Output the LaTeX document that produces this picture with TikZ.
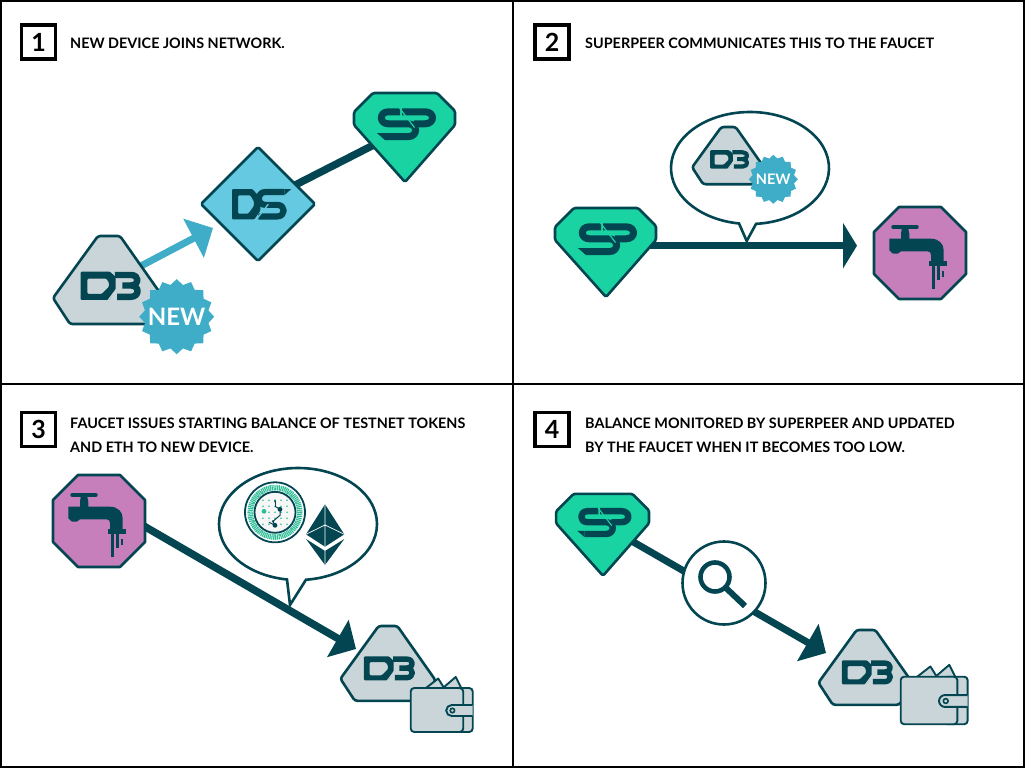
\documentclass[tikz,border=0pt]{standalone}
\usepackage{fontspec}
\setmainfont{Lato}
\usetikzlibrary{arrows.meta,shapes.geometric}
\definecolor{dk}{HTML}{034652}
\definecolor{gem}{HTML}{1AD3A3}
\definecolor{dsblue}{HTML}{66C9E2}
\definecolor{devgrey}{HTML}{C9D5D8}
\definecolor{badgeblue}{HTML}{3FADC7}
\definecolor{fau}{HTML}{C77FBC}
\definecolor{coin}{HTML}{2DBE96}
\tikzset{
  outline/.style={draw=dk,line width=2.6pt,line join=round},
  panelline/.style={draw=black,line width=2.4pt},
  numbox/.style={draw=black,line width=3.4pt,minimum size=34pt,inner sep=0pt,font=\bfseries\fontsize{25}{25}\selectfont},
  caption/.style={anchor=west,inner sep=0pt,font=\bfseries\fontsize{14.4}{14.4}\selectfont,text=black},
  badge/.style={star,star points=16,star point ratio=1.16,fill=badgeblue,text=white,inner sep=-6pt},
  conn/.style={draw=dk,line width=7.5pt},
  bubble/.style={draw=dk,line width=2.6pt,fill=white,line join=miter},
  glyph/.style={draw=dk,line cap=butt,line join=round}
}
% DB device: origin at the middle of the top edge
\newcommand{\DBdev}[4]{\begin{scope}[shift={(#2,#3)},scale=#4]
  \coordinate (#1) at (0,40);
  \draw[outline,fill=devgrey,rounded corners=2.5pt] (-11,0)--(11,0)--(56,64)--(39,88)--(-39,88)--(-56,62)--cycle;
  \begin{scope}[shift={(-28.3,35.7)},xscale=1.13,yscale=1.25,shift={(28.3,-34.7)}]
  \fill[dk,even odd rule,rounded corners=1pt] (-28.3,34.7)--(-2.3,34.7)--(2.7,39)--(2.7,49)--(-3,57.3)--(-28.3,57.3)--cycle
     (-22.3,40.2)--(-5.7,40.2)--(-3.3,43.3)--(-3.3,46.7)--(-9.7,52.5)--(-22.3,52.5)--cycle;
  \draw[glyph,line width=6.4*#4] (2,37.3)--(16,37.3) .. controls (24,37.3) and (24,45.7) .. (16,45.7)--(8.5,45.7)
     (16,45.7) .. controls (24,45.7) and (24,54.8) .. (16,54.8)--(4,54.8);
  \draw[devgrey,line width=1.3*#4] (-6,60)--(8,43);
  \end{scope}
\end{scope}}
% Superpeer gem: origin at the visual centre
\newcommand{\SPgem}[4]{\begin{scope}[shift={(#2,#3)},scale=#4]
  \coordinate (#1) at (0,0);
  \draw[outline,fill=gem,rounded corners=1.5pt] (-32,-36)--(32,-36)--(50,-18)--(50,-4)--(0,53)--(-51,-4)--(-51,-17)--cycle;
  \draw[glyph,line width=7*#4] (-5,-17.2)--(-16.7,-17.2) .. controls (-26,-17.2) and (-26,-5.2) .. (-16.7,-5.2)--(3.3,-5.2)
      .. controls (13,-5.2) and (13,7.6) .. (3.3,7.6)--(-20,7.6);
  \fill[dk] (-20,4.1)--(-28,4.1)--(-20,11.1)--cycle;
  \draw[glyph,line width=7*#4] (-3,-17.2)--(20,-17.2) .. controls (30,-17.2) and (30,-5.2) .. (20,-5.2)--(9,-5.2);
  \draw[gem,line width=1.2*#4] (-5.5,-21)--(9.5,-1.5);
\end{scope}}
% Device server diamond
\newcommand{\DSdia}[3]{\begin{scope}[shift={(#2,#3)}]
  \coordinate (#1) at (0,0);
  \draw[outline,fill=dsblue,rounded corners=1.5pt] (0,-57)--(57,0)--(0,57)--(-57,0)--cycle;
  \begin{scope}[shift={(-26,-15)},yscale=1.27,shift={(25.3,14)}]
  \fill[dk,even odd rule,rounded corners=1pt] (-25.3,-14)--(-5,-14)--(3,-7)--(3,3)--(-3,10)--(-25.3,10)--cycle
     (-19.3,-9)--(-7,-9)--(-3.5,-4.5)--(-3.5,-0.5)--(-9,5.4)--(-19.3,5.4)--cycle;
  \draw[glyph,line width=6.2pt] (27,-11.6)--(8,-11.6) .. controls (-0.5,-11.6) and (-0.5,-1.5) .. (8,-1.5)--(20,-1.5)
      .. controls (28.5,-1.5) and (28.5,7.6) .. (20,7.6)--(1,7.6);
  \fill[dk] (27,-14)--(34,-14)--(27,-9.1)--cycle;
  \draw[dsblue,line width=1.3pt] (-4,13)--(11,-2);
  \end{scope}
\end{scope}}
% Faucet octagon
\newcommand{\Faucet}[3]{\begin{scope}[shift={(#2,#3)}]
  \coordinate (#1) at (0,0);
  \draw[outline,fill=fau] (-21,-46)--(21,-46)--(46,-21)--(46,21)--(21,46)--(-21,46)--(-46,21)--(-46,-21)--cycle;
  \draw[dk,line width=3.4pt,line cap=round] (-27,-26)--(-3,-26);
  \fill[dk] (-18,-26)--(-12,-26)--(-10.7,-19.3)--(-10.7,-14.3)--(11,-14.3) .. controls (19,-14.3) and (23.7,-9) .. (23.7,-2.7)
     --(23.7,8)--(11,8)--(11,2.3) .. controls (11,0) and (10,-1.7) .. (7.7,-1.7)--(-19,-1.7)--(-22.3,0.7)--(-27,0.7)--(-30.7,-2.7)--(-30.7,-14.3)--(-19,-14.3)--(-19,-19.3)--cycle;
  \fill[dk] (9,7.5) rectangle (27,13);
  \draw[dk,line width=3pt] (13.5,13)--(13.5,35.5);
  \draw[dk,line width=2.7pt] (18.3,13)--(18.3,27);
  \draw[dk,line width=2.2pt] (23,18)--(23,24);
\end{scope}}
% Wallet: origin at the top left of its front
\newcommand{\Wallet}[4]{\begin{scope}[shift={(#2,#3)},scale=#4]
  \coordinate (#1) at (31,22);
  \draw[dk,line width=1.9pt,fill=devgrey,line join=round] (14,1)--(27.5,-9.5)--(34,1)--cycle;
  \draw[dk,line width=1.9pt,fill=devgrey,line join=round] (31,1)--(45,-11)--(51,1)--cycle;
  \draw[dk,line width=1.9pt,fill=devgrey,rounded corners=3.5pt] (40,0) rectangle (62,44);
  \draw[dk,line width=1.9pt,fill=devgrey,rounded corners=3.5pt] (0,0) rectangle (52.5,44);
  \draw[dk,line width=1.9pt,fill=devgrey] (62,17)--(41,17) arc[start angle=-90,end angle=-270,radius=5.5]--(62,28);
  \draw[dk,line width=1.6pt] (41.7,22.5) circle[radius=2.2];
\end{scope}}
\begin{document}
\begin{tikzpicture}[x=1pt,y=-1pt]
\useasboundingbox (0,0) rectangle (1025,768);
\fill[white] (0,0) rectangle (1025,768);
% panel rules
\coordinate (tl) at (1,1); \coordinate (br) at (1024,767);
\coordinate (vt) at (513,0); \coordinate (vb) at (513,768);
\coordinate (hl) at (0,384); \coordinate (hr) at (1025,384);
\draw[panelline] (tl) rectangle (br);
\draw[panelline] (vt)--(vb);
\draw[panelline] (hl)--(hr);
% numbers and captions
\node[numbox] (n1) at (38.5,42) {1};
\node[numbox] (n2) at (552,42) {2};
\node[numbox] (n3) at (38.5,429.5) {3};
\node[numbox] (n4) at (552,429.5) {4};
\node[caption] (c1) at (70,43) {NEW DEVICE JOINS NETWORK.};
\node[caption] (c2) at (585,43) {SUPERPEER COMMUNICATES THIS TO THE FAUCET};
\node[caption] (c3a) at (70,423) {FAUCET ISSUES STARTING BALANCE OF TESTNET TOKENS};
\node[caption] (c3b) at (70,447) {AND ETH TO NEW DEVICE.};
\node[caption] (c4a) at (585,423) {BALANCE MONITORED BY SUPERPEER AND UPDATED};
\node[caption] (c4b) at (585,447) {BY THE FAUCET WHEN IT BECOMES TOO LOW.};
% panel 1
\coordinate (db1s) at (103,286); \coordinate (a1e) at (213,228);
\coordinate (ds1c) at (258,204); \coordinate (sp1c) at (405,129);
\draw[draw=badgeblue,line width=7pt,-{Triangle[length=22pt,width=43pt,fill=badgeblue]}] (db1s)--(a1e);
\draw[conn] (ds1c)--(sp1c);
\DBdev{db1}{109}{236}{1}
\DSdia{ds1}{258}{204}
\SPgem{sp1}{405}{129}{1}
\node[badge,minimum size=75pt,font=\bfseries\fontsize{24}{24}\selectfont] (new1) at (176.7,316.7) {NEW};
% panel 2
\coordinate (sp2c) at (606,245.7); \coordinate (a2e) at (857,245.7);
\draw[conn,-{Triangle[length=14pt,width=45pt,fill=dk]}] (sp2c)--(a2e);
\coordinate (bub2) at (750,168);
\draw[bubble] ([shift={(bub2)}]85.6:79 and 56) arc[start angle=85.6,end angle=-262,x radius=79,y radius=56] -- (746.7,241) -- cycle;
\SPgem{sp2}{606}{244}{1}
\Faucet{fau2}{920}{253}
\DBdev{db2}{728.5}{127}{0.65}
\node[badge,minimum size=49pt,inner sep=-4pt,font=\bfseries\fontsize{14.5}{14.5}\selectfont] (new2) at (773.3,179.3) {NEW};
% panel 3
\coordinate (f3s) at (130,518); \coordinate (a3e) at (356,649);
\draw[conn,-{Triangle[length=21pt,width=42pt,fill=dk]}] (f3s)--(a3e);
\Faucet{fau3}{99}{521}
\coordinate (bub3) at (298,524);
\draw[bubble] ([shift={(bub3)}]84.2:79 and 56) arc[start angle=84.2,end angle=-262,x radius=79,y radius=56] -- (290,605) -- cycle;
\DBdev{db3}{388}{626}{0.85}
\Wallet{w3}{410.7}{688}{1}
% token coin
\begin{scope}[shift={(275,512.3)}]
  \coordinate (tok) at (0,0);
  \draw[dk,line width=1.8pt,fill=white] (0,0) circle[radius=30];
  \draw[coin,line width=5.5pt,dash pattern=on 1.1pt off 0.7pt] (0,0) circle[radius=24.8];
  \draw[dk,line width=1.8pt,fill=black!3] (0,0) circle[radius=20.5];
  \foreach \px in {-12,-6,0,6,12}{\foreach \py in {-12,-6,0,6,12}{\fill[coin] (\px,\py) circle[radius=0.9];}}
  \fill[coin] (-11,-1) circle[radius=2.4];
  \draw[dk,line width=1pt,-{Stealth[length=3pt]}] (0,-6)--(0,-13);
  \draw[dk,line width=1pt] (0,-6)--(5,-3)--(5,3)--(-2,9)--(0,13)--(-6,10);
  \fill[dk] (5,-3) circle[radius=2.4] (0,13) circle[radius=2.4] (-2,9) circle[radius=1.2];
\end{scope}
% ether
\coordinate (eth) at (325,535);
\fill[dk] (325,504.3)--(344.3,534.3)--(325,546.7)--(306,534.3)--cycle;
\fill[dk] (306,539)--(325,551)--(344.3,539)--(325,565)--cycle;
\draw[white,line width=0.7pt] (325,504.3)--(325,546.7) (306,534.3)--(325,525)--(344.3,534.3) (325,551)--(325,565);
% panel 4
\coordinate (f4s) at (610,528.5); \coordinate (a4e) at (826,653);
\coordinate (mag) at (724,583);
\draw[conn,line width=7pt,-{Triangle[length=21pt,width=42pt,fill=dk]}] (f4s)--(a4e);
\SPgem{sp4}{603}{527}{0.92}
\draw[outline,fill=white] (mag) circle[radius=41.5];
\coordinate (lens) at (715,577);
\draw[dk,line width=4.6pt] (lens) circle[radius=14.5];
\draw[dk,line width=6pt] (725.5,587.5)--(745,606);
\DBdev{db4}{866}{630}{0.85}
\Wallet{w4}{900.7}{676.7}{1.08}
\end{tikzpicture}
\end{document}
